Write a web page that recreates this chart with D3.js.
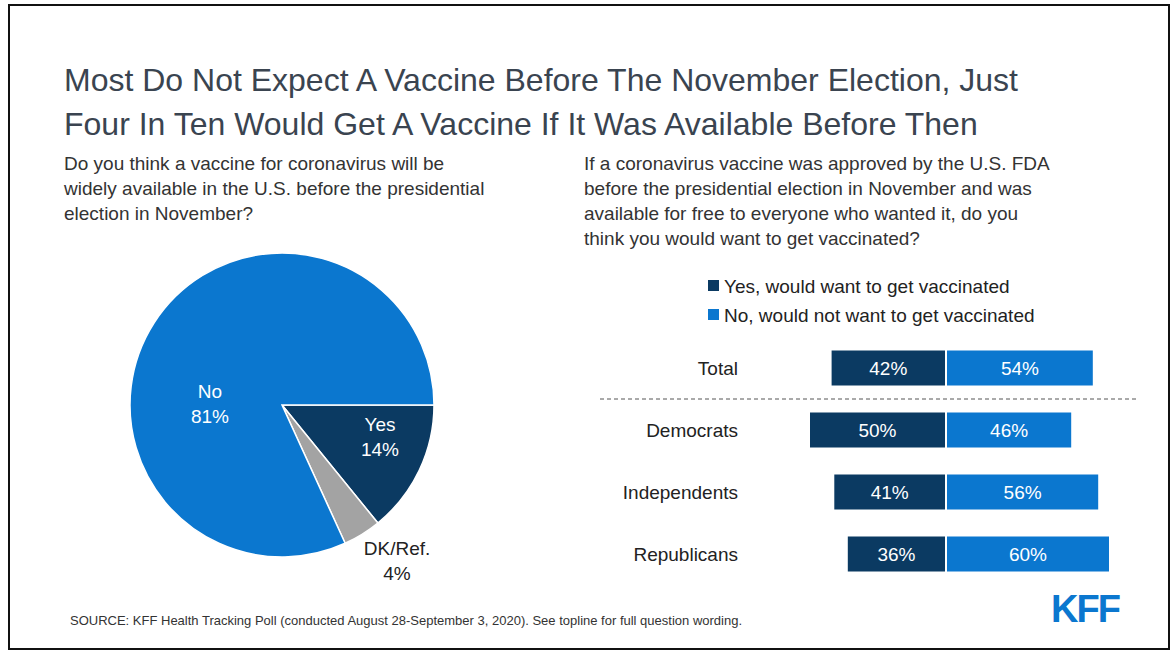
<!DOCTYPE html>
<meta charset="utf-8">
<style>
body { margin: 0; background: #fff; }
text { font-family: "Liberation Sans", Arial, sans-serif; }
.title { font-size: 32px; fill: #3a4450; }
.sub { font-size: 19px; fill: #333; }
.lbl { font-size: 19px; fill: #222; }
</style>
<body>
<script src="https://cdn.jsdelivr.net/npm/d3@7"></script>
<script>

var pieLabels = ["Yes", "DK/Ref.", "No"];
var pieValues = [14, 4, 81];
var pieColors = ["#0b3a62", "#a3a3a3", "#0b77cf"];

var groups = ["Total", "Democrats", "Independents", "Republicans"];
var yesVals = [42, 50, 41, 36];
var noVals = [54, 46, 56, 60];

var width = 1176, height = 656;

var svg = d3.select("body").append("svg")
    .attr("width", width)
    .attr("height", height);

svg.append("rect")
    .attr("x", 9).attr("y", 5).attr("width", 1160).attr("height", 644)
    .attr("fill", "none").attr("stroke", "#111").attr("stroke-width", 2);

var title = ["Most Do Not Expect A Vaccine Before The November Election, Just",
             "Four In Ten Would Get A Vaccine If It Was Available Before Then"];
svg.selectAll(".title").data(title).enter().append("text")
    .attr("class", "title")
    .attr("x", 64).attr("y", function(d, i) { return 91 + i * 44; })
    .text(function(d) { return d; });

var subL = ["Do you think a vaccine for coronavirus will be",
            "widely available in the U.S. before the presidential",
            "election in November?"];
svg.selectAll(".subL").data(subL).enter().append("text")
    .attr("class", "sub")
    .attr("x", 64).attr("y", function(d, i) { return 170 + i * 25; })
    .text(function(d) { return d; });

var subR = ["If a coronavirus vaccine was approved by the U.S. FDA",
            "before the presidential election in November and was",
            "available for free to everyone who wanted it, do you",
            "think you would want to get vaccinated?"];
svg.selectAll(".subR").data(subR).enter().append("text")
    .attr("class", "sub")
    .attr("x", 584).attr("y", function(d, i) { return 170 + i * 25; })
    .text(function(d) { return d; });

// pie
var pie = d3.pie().sort(null).startAngle(Math.PI / 2).endAngle(Math.PI / 2 + 2 * Math.PI);
var arcs = pie(pieValues);
var r = 152;
var arc = d3.arc().innerRadius(0).outerRadius(r);
var pg = svg.append("g").attr("transform", "translate(282,405)");
pg.selectAll("path").data(arcs).enter().append("path")
    .attr("d", arc)
    .attr("fill", function(d, i) { return pieColors[i]; })
    .attr("stroke", "#fff").attr("stroke-width", 1.5);

var labPos = [
  { x: 98, y: 26, c: "#fff" },
  { x: 115, y: 150, c: "#222" },
  { x: -72, y: -7, c: "#fff" }
];
arcs.forEach(function(d, i) {
  var t = pg.append("text").attr("class", "lbl")
      .attr("text-anchor", "middle")
      .attr("fill", labPos[i].c).style("fill", labPos[i].c)
      .attr("x", labPos[i].x).attr("y", labPos[i].y);
  t.append("tspan").attr("x", labPos[i].x).text(pieLabels[i]);
  t.append("tspan").attr("x", labPos[i].x).attr("dy", 25).text(pieValues[i] + "%");
});

// legend
var legend = [["Yes, would want to get vaccinated", "#0b3a62"],
              ["No, would not want to get vaccinated", "#0b77cf"]];
legend.forEach(function(d, i) {
  svg.append("rect").attr("x", 708).attr("y", 280 + i * 29)
      .attr("width", 11).attr("height", 11).attr("fill", d[1]);
  svg.append("text").attr("class", "lbl").attr("x", 724).attr("y", 293 + i * 29).text(d[0]);
});

// bars
var cx = 946;
var x = d3.scaleLinear().domain([0, 100]).range([0, 270]);
var y = d3.scalePoint().domain(groups).range([368, 554]);
var bh = 35;

svg.selectAll(".yes").data(groups).enter().append("rect")
    .attr("x", function(d, i) { return cx - 1 - x(yesVals[i]); })
    .attr("y", function(d) { return y(d) - bh / 2; })
    .attr("width", function(d, i) { return x(yesVals[i]); })
    .attr("height", bh).attr("fill", "#0b3a62");
svg.selectAll(".no").data(groups).enter().append("rect")
    .attr("x", cx + 1)
    .attr("y", function(d) { return y(d) - bh / 2; })
    .attr("width", function(d, i) { return x(noVals[i]); })
    .attr("height", bh).attr("fill", "#0b77cf");

groups.forEach(function(g, i) {
  svg.append("text").attr("class", "lbl").attr("text-anchor", "middle")
      .style("fill", "#fff").attr("x", cx - 1 - x(yesVals[i]) / 2).attr("y", y(g) + 7)
      .text(yesVals[i] + "%");
  svg.append("text").attr("class", "lbl").attr("text-anchor", "middle")
      .style("fill", "#fff").attr("x", cx + 1 + x(noVals[i]) / 2).attr("y", y(g) + 7)
      .text(noVals[i] + "%");
  svg.append("text").attr("class", "lbl").attr("text-anchor", "end")
      .attr("x", 738).attr("y", y(g) + 7).text(g);
});

svg.append("line").attr("x1", 600).attr("x2", 1138).attr("y1", 399).attr("y2", 399)
    .attr("stroke", "#555").attr("stroke-dasharray", "4,3");

svg.append("text").attr("x", 70).attr("y", 625)
    .style("font-size", "13px").style("fill", "#333")
    .text("SOURCE: KFF Health Tracking Poll (conducted August 28-September 3, 2020). See topline for full question wording.");

svg.append("text").attr("x", 1051).attr("y", 622)
    .style("font-size", "38px").style("font-weight", "bold").style("fill", "#0b77cf")
    .style("letter-spacing", "-2px")
    .text("KFF");

</script>
